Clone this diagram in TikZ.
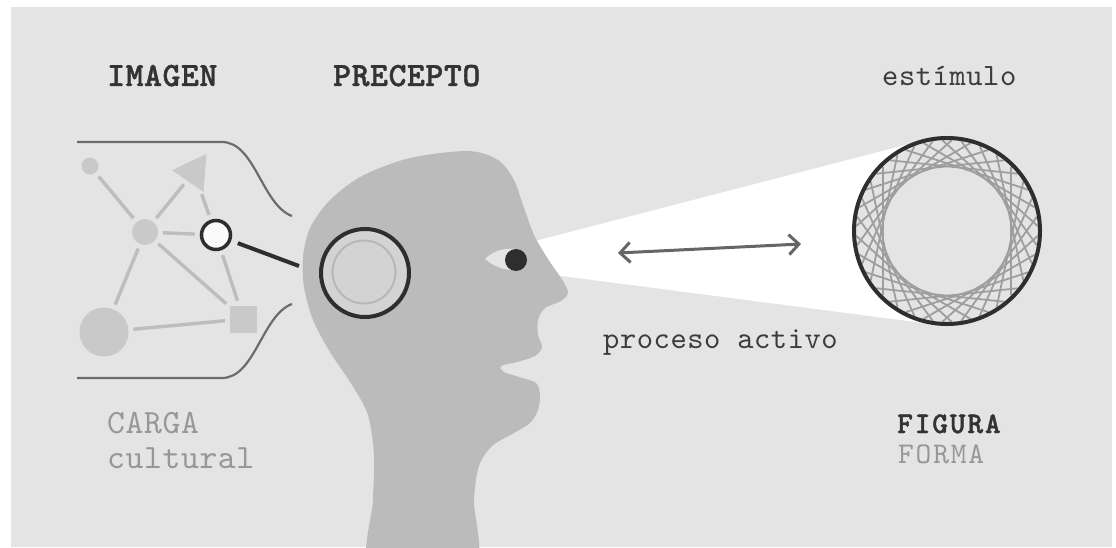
\documentclass[tikz,border=0pt]{standalone}
\usepackage{fontspec}
\newfontfamily\typew{lmmono10}[Extension=.otf, UprightFont=*-regular,
  BoldFont=lmmonolt10-bold, BoldFeatures={FakeBold=1.2}, LetterSpace=1.8]
\newfontfamily\typewide{lmmono10}[Extension=.otf, UprightFont=*-regular,
  BoldFont=lmmonolt10-bold, BoldFeatures={FakeBold=1.2}, LetterSpace=6]
\usetikzlibrary{arrows.meta,shapes.geometric,calc}

\definecolor{bg}{HTML}{E4E4E4}
\definecolor{headc}{HTML}{BBBBBB}
\definecolor{eyew}{HTML}{E4E4E4}
\definecolor{ink}{HTML}{2E2E2E}
\definecolor{textdark}{HTML}{333333}
\definecolor{textmid}{HTML}{3C3C3C}
\definecolor{textlight}{HTML}{979797}
\definecolor{netfill}{HTML}{C9C9C9}
\definecolor{netedge}{HTML}{BDBDBD}
\definecolor{eardisc}{HTML}{D3D3D3}
\definecolor{earring}{HTML}{B7B7B7}
\definecolor{bracec}{HTML}{6C6C6C}
\definecolor{spiroc}{HTML}{9E9E9E}
\definecolor{arrowc}{HTML}{666666}

\tikzset{
  netnode/.style={circle, fill=netfill, inner sep=0pt, outer sep=0pt},
  netsquare/.style={rectangle, fill=netfill, inner sep=0pt, outer sep=0pt, minimum size=27pt},
  nettri/.style={regular polygon, regular polygon sides=3, fill=netfill, inner sep=0pt,
                 outer sep=0pt, minimum size=44pt, rotate=85.6},
  focusnode/.style={circle, fill=white!98!black, draw=ink, line width=3.5pt, inner sep=0pt,
                    minimum size=29pt},
  netlink/.style={draw=netedge, line width=3.4pt, shorten <=5pt, shorten >=5pt},
  brace/.style={draw=bracec, line width=2.2pt},
  biglabel/.style={font=\typew\bfseries\fontsize{34pt}{34pt}\selectfont, text=textdark,
                   anchor=base west, inner sep=0pt},
  plainlabel/.style={font=\typew\fontsize{31pt}{31pt}\selectfont, text=textmid,
                     anchor=base west, inner sep=0pt},
  softlabel/.style={font=\typew\fontsize{34pt}{34pt}\selectfont, text=textlight,
                    anchor=base west, inner sep=0pt},
  figlabel/.style={font=\typewide\bfseries\fontsize{30pt}{30pt}\selectfont, text=textdark,
                   anchor=base west, inner sep=0pt},
  formlabel/.style={font=\typewide\fontsize{30pt}{30pt}\selectfont, text=textlight,
                    anchor=base west, inner sep=0pt},
  spiro/.style={draw=spiroc, line width=1.8pt},
}

\begin{document}
\begin{tikzpicture}[x=1pt, y=-1pt]
  \useasboundingbox (0,0) rectangle (1116,548);
  \clip (0,0) rectangle (1116,548);
  \fill[white] (0,0) rectangle (1116,548);
  \fill[bg] (11,7) rectangle (1112,547);

  % light beam from the eye to the stimulus
  \fill[white] (454,262) -- (930,138.6) -- (947,231) -- (935,324.5) -- cycle;

  % head in profile
  \fill[headc] plot[smooth cycle, tension=0.5] coordinates {
    (372,570) (373,500) (374,455) (368,415) (352,385) (330,352) (313,320)
    (304,287) (303,257) (310,228) (330,200) (362,176) (410,158) (468,151)
    (498,160) (514,180) (524,208) (535,237) (550,262) (563,281) (568,293)
    (561,301) (545,308) (538,320) (538,335) (542,347) (535,356) (517,362)
    (501,366) (504,372) (519,377) (536,383) (540,395) (538,410) (530,423)
    (514,433) (492,446) (479,466) (474,500) (473,570)};

  % eye
  \fill[eyew] (485,259) .. controls (493,251) and (503,248) .. (514,249)
              -- (514,270) .. controls (503,270) and (493,266) .. cycle;
  \node[circle, fill=ink, inner sep=0pt, minimum size=22pt] (pupil) at (516,260) {};

  % ear disc
  \node[circle, fill=eardisc, draw=ink, line width=4pt, inner sep=0pt, minimum size=88pt]
    (ear) at (365,273) {};
  \node[circle, draw=earring, line width=2pt, inner sep=0pt, minimum size=63pt]
    (earin) at (364,272) {};

  % cultural network
  \node[netnode, minimum size=17pt] (n1) at (90,166) {};
  \node[netnode, minimum size=26pt] (n2) at (145,232) {};
  \node[nettri] (n3) at (194,172) {};
  \node[focusnode] (n4) at (216,235) {};
  \node[netnode, minimum size=49pt] (n5) at (104,332) {};
  \node[netsquare] (n6) at (243.5,319) {};

  \draw[netlink] (n1) -- (n2);
  \draw[netlink] (n2) -- (n3);
  \draw[netlink] (n3) -- (n4);
  \draw[netlink] (n2) -- (n4);
  \draw[netlink] (n2) -- (n5);
  \draw[netlink] (n2) -- (n6);
  \draw[netlink] (n4) -- (n6);
  \draw[netlink] (n5) -- (n6);

  % link from the network to the ear
  \coordinate (lk) at (299,266);
  \draw[draw=ink, line width=4pt, shorten <=7pt] (n4) -- (lk);

  % bracket around the network
  \draw[brace] (77,142) -- (222,142) .. controls (255,142) and (262,205) .. (292,216);
  \draw[brace] (77,378) -- (222,378) .. controls (255,378) and (262,315) .. (292,304);

  % stimulus figure
  \node[circle, fill=bg, inner sep=0pt, minimum size=188pt] (stim) at (947,231) {};
  \foreach \i in {0,...,29} {
    \draw[spiro] ($(stim.center)+(3+\i*12:91pt)$) -- ($(stim.center)+(93+\i*12:91pt)$);
  }
  \node[circle, draw=ink, line width=4pt, inner sep=0pt, minimum size=186pt]
    (stimring) at (stim) {};

  % active process arrow
  \coordinate (al) at (618,253);
  \coordinate (ar) at (801,244);
  \draw[draw=arrowc, line width=3pt,
        {Straight Barb[length=10pt,width=20pt]}-{Straight Barb[length=10pt,width=20pt]}]
    (al) -- (ar);

  % labels
  \node[biglabel] (imagen) at (107,86) {IMAGEN};
  \node[biglabel] (precepto) at (333,86) {PRECEPTO};
  \node[plainlabel] (estimulo) at (882,86) {estímulo};
  \node[plainlabel] (proceso) at (603,348) {proceso activo};
  \node[softlabel] (carga) at (107,433) {CARGA};
  \node[softlabel] (cultural) at (107,468) {cultural};
  \node[figlabel] (figura) at (897,433) {FIGURA};
  \node[formlabel] (forma) at (898,463) {FORMA};
\end{tikzpicture}
\end{document}
